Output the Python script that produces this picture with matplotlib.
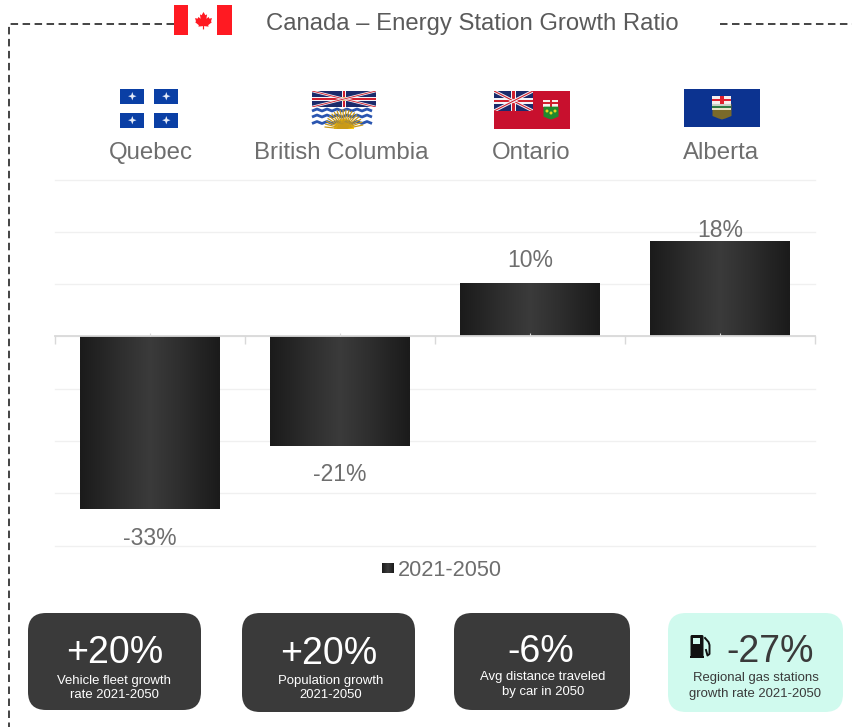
#!/usr/bin/env python
# energy station growth by province, with flags and summary cards

import numpy as np
import matplotlib
matplotlib.use('Agg')
import matplotlib.pyplot as plt
from matplotlib.colors import LinearSegmentedColormap
from matplotlib.patches import Rectangle, FancyBboxPatch, Polygon, Circle, Wedge

provinces = ['Quebec', 'British Columbia', 'Ontario', 'Alberta']
growth = [-33, -21, 10, 18]
series_name = '2021-2050'
title = 'Canada \u2013 Energy Station Growth Ratio'

card_values = ['+20%', '+20%', '-6%', '-27%']
card_captions = ['Vehicle fleet growth\nrate 2021-2050',
                 'Population growth\n2021-2050',
                 'Avg distance traveled\nby car in 2050',
                 'Regional gas stations\ngrowth rate 2021-2050']

plt.rcParams['font.family'] = ['Liberation Sans', 'DejaVu Sans']

W, H = 853, 727
GREY = '#6e6e6e'
DARK = '#3a3a3a'
MINT = '#d0faee'
RED = '#ff1a22'
QC_BLUE = '#0a3fa5'
UJ_BLUE = '#1b2a6b'
UJ_RED = '#d0202e'

fig = plt.figure(figsize=(W/100., H/100.), dpi=100, facecolor='white')

# chart axes, placed in pixels
def pixel_axes(x0, y0, x1, y1):
    return fig.add_axes((x0/W, 1 - y1/H, (x1-x0)/W, (y1-y0)/H))

ax = pixel_axes(55, 179.6, 815, 545.6)
x = np.arange(len(provinces))
bars = ax.bar(x, growth, width=0.732, color='#2a2a2a', zorder=1)

# horizontal shading on each bar
shade = LinearSegmentedColormap.from_list('shade', ['#1b1b1b', '#2c2c2c', '#3b3b3b', '#2c2c2c', '#1b1b1b'])
ramp = np.linspace(0, 1, 64).reshape(1, -1)
label_gap = [-6.9, -6.7, 3.25, 0.96]  # baseline distance from the bar end, in axis units
for b, val, gap in zip(bars, growth, label_gap):
    b.set_visible(False)
    ext = (b.get_x(), b.get_x() + b.get_width(), min(0, val), max(0, val))
    ax.imshow(ramp, cmap=shade, extent=ext, aspect='auto', zorder=1, interpolation='bilinear')
    ax.text(b.get_x() + b.get_width()/2., val + gap, '%d%%' % val, ha='center',
            va='baseline', fontsize=16.5, color=GREY, zorder=4)

ax.set_xlim(-0.5, 3.5)
ax.set_ylim(-40, 30)
ax.set_yticks(np.arange(-40, 31, 10))
ax.tick_params(axis='y', left=False, labelleft=False)
ax.set_axisbelow(False)
ax.yaxis.set_zorder(0.5)
ax.grid(axis='y', color='#f0f0f0', lw=1.0)
ax.grid(axis='x', visible=False)
for gl in ax.get_ygridlines():
    gl.set_clip_on(False)
for side in ['top', 'left', 'right']:
    ax.spines[side].set_visible(False)
ax.spines['bottom'].set_position(('data', 0))
ax.spines['bottom'].set_color('#d9d9d9')
ax.spines['bottom'].set_linewidth(1.3)
ax.patch.set_alpha(0)

# boundary ticks hang below the zero line, centre ticks poke above it
ax.set_xticks(np.arange(-0.5, 3.6, 1))
ax.set_xticks(x, minor=True)
ax.tick_params(axis='x', which='major', direction='out', length=5.5, width=1, color='#d9d9d9', labelbottom=False)
ax.tick_params(axis='x', which='minor', direction='in', length=2.5, width=0.8, color='#d9d9d9', labelbottom=False)

# everything else is laid out in pixels on an overlay
ov = fig.add_axes((0, 0, 1, 1), zorder=5)
ov.set_xlim(0, W)
ov.set_ylim(H, 0)
ov.axis('off')
ov.patch.set_alpha(0)


def rect(x0, y0, w, h, c, **kw):
    r = Rectangle((x0, y0), w, h, facecolor=c, edgecolor='none', **kw)
    ov.add_patch(r)
    return r


def maple(cx, cy, s, c):
    pts = np.array([[0, -1], [.22, -.62], [.42, -.72], [.34, -.2], [.6, -.42], [.68, -.22], [1, -.28],
                    [.88, .1], [.98, .2], [.55, .55], [.6, .72], [.07, .66], [.07, 1.05], [-.07, 1.05],
                    [-.07, .66], [-.6, .72], [-.55, .55], [-.98, .2], [-.88, .1], [-1, -.28], [-.68, -.22],
                    [-.6, -.42], [-.34, -.2], [-.42, -.72], [-.22, -.62]])
    ov.add_patch(Polygon(pts*s + [cx, cy], closed=True, facecolor=c, edgecolor='none'))


def union_jack(x0, y0, w, h):
    clip = rect(x0, y0, w, h, UJ_BLUE)
    for (xa, ya, xb, yb) in [(x0, y0, x0+w, y0+h), (x0, y0+h, x0+w, y0)]:
        l, = ov.plot([xa, xb], [ya, yb], color='#f4f4f8', lw=h*.11, solid_capstyle='butt')
        l.set_clip_path(clip)
        l, = ov.plot([xa, xb], [ya, yb], color=UJ_RED, lw=h*.04, solid_capstyle='butt')
        l.set_clip_path(clip)
    rect(x0 + w/2. - h*.13, y0, h*.26, h, '#f4f4f8')
    rect(x0, y0 + h*.37, w, h*.26, '#f4f4f8')
    rect(x0 + w/2. - h*.07, y0, h*.14, h, UJ_RED)
    rect(x0, y0 + h*.43, w, h*.14, UJ_RED)


def shield(cx, y0, w, h, top, body):
    rect(cx - w/2., y0, w, h*.34, '#f6f0ee')
    rect(cx - w/2., y0 + h*.11, w, h*.1, top)
    rect(cx - w*.08, y0, w*.16, h*.34, top)
    ov.add_patch(Polygon([[cx-w/2., y0+h*.34], [cx+w/2., y0+h*.34], [cx+w/2., y0+h*.85],
                          [cx+w*.2, y0+h*.95], [cx, y0+h], [cx-w*.2, y0+h*.95], [cx-w/2., y0+h*.85]],
                         closed=True, facecolor=body, edgecolor='none'))


def fleur(cx, cy):
    s = 4.2
    pts = [[0, -s], [1.1, -1.1], [s, 0], [1.1, 1.1], [0, s], [-1.1, 1.1], [-s, 0], [-1.1, -1.1]]
    ov.add_patch(Polygon(np.array(pts) + [cx, cy], closed=True, facecolor='#e6ecf8', edgecolor='none'))


# Canada
rect(174, 5, 58, 30, 'white')
rect(174, 5, 14.5, 30, RED)
rect(217.5, 5, 14.5, 30, RED)
maple(203.5, 20.5, 8.5, RED)

# Quebec
for qx, qw in [(120, 24.5), (154, 24)]:
    for qy in [89, 113]:
        rect(qx, qy, qw, 14.5, QC_BLUE)
        fleur(qx + 12.3, qy + 7.2)

# British Columbia
rect(312, 91, 64, 38, 'white')
union_jack(312, 91, 64, 16)
for wy in [110, 116, 122.5]:
    xs = np.arange(312, 377, 5.)
    ys = wy + 1.0*np.where(np.arange(len(xs)) % 2 == 0, 1, -1)
    ov.plot(xs, ys, color='#2a55b0', lw=2.0, solid_capstyle='butt')
sun_clip = rect(312, 107, 64, 22, 'none')
for ang in np.arange(186, 355, 9):
    a = np.radians(ang)
    l, = ov.plot([344, 344 + 19*np.cos(a)], [129, 129 + 19*np.sin(a)], color='#c99a18', lw=0.9)
    l.set_clip_path(sun_clip)
ov.add_patch(Wedge((344, 129), 10, 180, 360, facecolor='#ffcf00', edgecolor='none'))
rect(341, 97, 6, 4, '#d79a1a')

# Ontario
rect(494, 91, 76, 38, '#c8102e')
union_jack(494, 91, 39, 20)
shield(551, 100, 15, 19.5, '#d0202e', '#1f8a2e')
for gx, gy in [(551, 113), (547, 111), (555, 111)]:
    ov.add_patch(Circle((gx, gy), 1.5, facecolor='#e8d820', edgecolor='none'))

# Alberta
rect(684, 89, 76, 38, '#0c3390')
shield(722, 96, 19, 23.5, '#e0202e', '#7a6a2a')
rect(712.5, 104, 19, 2, '#c9d0c8')
rect(712.5, 106, 19, 2.4, '#2f7a44')
rect(712.5, 108.4, 19, 1.2, '#e8e4c8')

# dashed frame, broken around the title
dash = dict(color='#111111', lw=1.1, linestyle=(0, (4.9, 2.95)), solid_capstyle='butt')
ov.plot([174, 9, 9], [24, 24, 727], **dash)
ov.plot([720, 853], [24, 24], **dash)

ov.text(472, 30, title, ha='center', va='baseline', fontsize=17.2, color='#5a5a5a')

# province names under the flags
for name, cx in zip(provinces, [150.5, 341, 531.5, 721]):
    ov.text(cx, 159, name, ha='center', va='baseline', fontsize=17.3, color=GREY)

# legend
ov.imshow(ramp, cmap=shade, extent=(382, 394, 573, 563), aspect='auto', zorder=3)
ov.set_xlim(0, W)
ov.set_ylim(H, 0)
ov.text(398, 576, series_name, ha='left', va='baseline', fontsize=15.7, color=GREY)

# summary cards
card_boxes = [(28, 613, 173, 97), (242, 613, 173, 99), (454, 613, 176, 97), (668, 613, 175, 99)]
value_x = [114.5, 329, 541, 770]
caption_x = [114.5, 331, 543, 755.5]
value_y = [663, 664, 662.5, 662]
caption_y = [697.7, 697.7, 695, 696.7]
caption_leading = [1.23, 1.23, 1.38, 1.4]
for i, (bx, by, bw, bh) in enumerate(card_boxes):
    light = i == 3
    ov.add_patch(FancyBboxPatch((bx+18, by+18), bw-36, bh-36, boxstyle='round,pad=18,rounding_size=18',
                                facecolor=MINT if light else DARK, edgecolor='none'))
    c = DARK if light else 'white'
    ov.text(value_x[i], value_y[i], card_values[i], ha='center', va='baseline', fontsize=27, color=c)
    ov.text(caption_x[i], caption_y[i], card_captions[i], ha='center', va='baseline', fontsize=9.45,
            color=c, linespacing=caption_leading[i])

# fuel pump icon
ov.add_patch(FancyBboxPatch((691, 635.5), 12, 21, boxstyle='round,pad=0.5,rounding_size=1.5', facecolor='#111111', edgecolor='none'))
rect(693.5, 638, 7, 6, MINT)
rect(690, 655.5, 14.5, 2.5, '#111111')
ov.plot([705, 708.5, 709.5, 709.5, 707.5, 706], [638, 642, 645, 654, 655.5, 650], color='#111111', lw=1.4)

fig.savefig('out.png', dpi=100, facecolor='white')
